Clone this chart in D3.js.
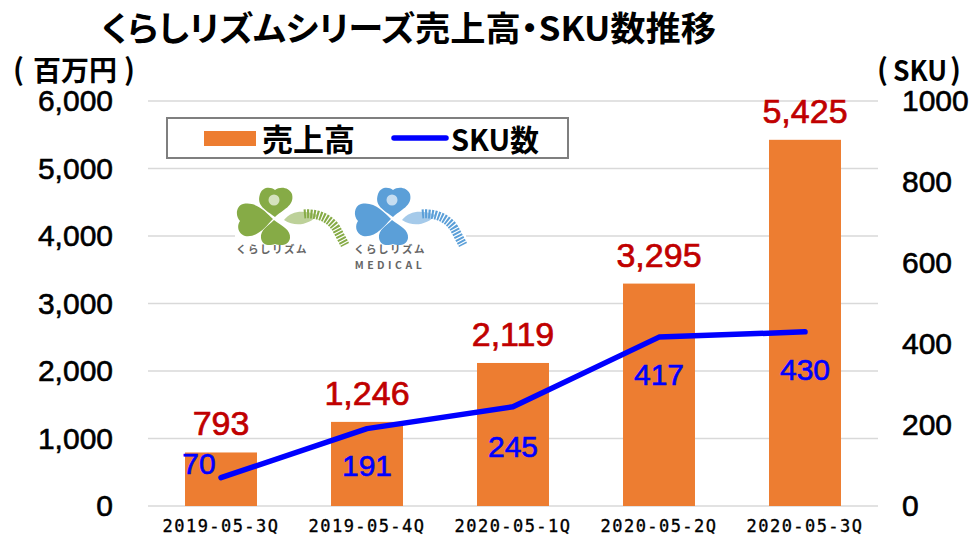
<!DOCTYPE html>
<html>
<head>
<meta charset="utf-8">
<script src="https://cdn.jsdelivr.net/npm/d3@7"></script>
<style>
html, body { margin:0; padding:0; background:#fff; }
svg { display:block; }
text { font-family:"Liberation Sans", Arial, sans-serif; }
.jp { font-family:"Noto Sans CJK JP", sans-serif; font-weight:700; }
</style>
</head>
<body>
<div id="chart"></div>
<script>
/*DATA*/
const quarters = ["2019-05-3Q","2019-05-4Q","2020-05-1Q","2020-05-2Q","2020-05-3Q"];
const sales = [793,1246,2119,3295,5425];
const sku = [70,191,245,417,430];
const salesTicks = [0,1000,2000,3000,4000,5000,6000];
const skuTicks = [0,200,400,600,800,1000];

const title = "くらしリズムシリーズ売上高・SKU数推移";
const legendLabels = ["売上高","SKU数"];

/*Initiate dimension*/
const width = 979, height = 536;
const margin = {top:101, right:101, bottom:30, left:148};

const orange = "#ed7d31", blue = "#0000ff", red = "#c00000", grid = "#d9d9d9";

const svg = d3.select("#chart").append("svg")
	.attr("width",width)
	.attr("height",height);

/*SCALES*/
const x = d3.scaleBand()
	.domain(quarters)
	.range([margin.left,width-margin.right])
	.paddingInner(0.507)
	.paddingOuter(0.2535);
const ySales = d3.scaleLinear().domain([0,6000]).range([height-margin.bottom,margin.top]);
const ySku = d3.scaleLinear().domain([0,1000]).range([height-margin.bottom,margin.top]);
const cx = d => x(d)+x.bandwidth()/2;

/*GRID*/
svg.append("g").selectAll("line")
	.data(salesTicks)
	.enter().append("line")
	.attr("x1",margin.left)
	.attr("x2",width-margin.right)
	.attr("y1",d => ySales(d))
	.attr("y2",d => ySales(d))
	.attr("stroke",grid)
	.attr("stroke-width",1.5);

/*AXES*/
const axisLeft = svg.append("g")
	.attr("transform",`translate(${margin.left-35},0)`)
	.call(d3.axisLeft(ySales).tickValues(salesTicks).tickSize(0).tickPadding(0).tickFormat(d3.format(",")));
const axisRight = svg.append("g")
	.attr("transform",`translate(${width-margin.right+24},0)`)
	.call(d3.axisRight(ySku).tickValues(skuTicks).tickSize(0).tickPadding(0).tickFormat(d3.format("d")));
const axisBottom = svg.append("g")
	.attr("transform",`translate(0,${height-margin.bottom+14})`)
	.call(d3.axisBottom(x).tickSize(0).tickPadding(0));
axisLeft.select(".domain").remove();
axisRight.select(".domain").remove();
axisBottom.select(".domain").remove();
axisLeft.selectAll("text").attr("font-size",30).attr("fill","#000").attr("stroke","#000").attr("stroke-width",0.6)
	.attr("style",'font-family:"Liberation Sans"');
axisRight.selectAll("text").attr("font-size",30).attr("fill","#000").attr("stroke","#000").attr("stroke-width",0.6)
	.attr("style",'font-family:"Liberation Sans"');
axisBottom.selectAll("text").attr("font-size",17).attr("fill","#000").attr("stroke","#000").attr("stroke-width",0.35)
	.attr("style",'font-family:"DejaVu Sans Mono"; letter-spacing:1.45px');

/*BARS*/
svg.append("g").selectAll("rect")
	.data(quarters)
	.enter().append("rect")
	.attr("x",d => x(d))
	.attr("width",x.bandwidth())
	.attr("y",(d,i) => ySales(sales[i]))
	.attr("height",(d,i) => ySales(0)-ySales(sales[i]))
	.attr("fill",orange);

/*LOGOS (dessin approximatif)*/
function logo(x0,y0,col,lines){
	const g = svg.append("g").attr("transform",`translate(${x0},${y0})`);
	//feuilles
	g.append("path").attr("d","M39,31 C30,24 20,20 24,8 C27,0 35,1 39,4 C44,0 53,1 56,8 C59,20 46,24 39,31 Z").attr("fill",col);
	g.append("path").attr("d","M37,33 C30,40 22,52 9,50 C1,47 1,39 4,35 C-1,30 0,20 7,18 C20,15 30,26 37,33 Z").attr("fill",col);
	g.append("path").attr("d","M38,34 C46,40 55,44 54,52 C53,60 44,60 39,58 C34,60 26,60 25,52 C24,44 32,40 38,34 Z").attr("fill",col);
	g.append("circle").attr("cx",38).attr("cy",14).attr("r",5.5).attr("fill","#fff").attr("opacity",0.65);
	//ruban
	g.append("path")
		.attr("d","M48,34 C56,24 68,24 82,29 C74,38 60,42 48,34 Z")
		.attr("fill",col).attr("opacity",0.55);
	g.append("path")
		.attr("d","M68,28 C78,27 92,30 100,42 L109,59")
		.attr("fill","none").attr("stroke",col).attr("stroke-width",9).attr("stroke-dasharray","2 1.2");
	lines.forEach((t,i) => {
		g.append("text").attr("class","jp").attr("x",36).attr("y",67+i*16)
			.attr("text-anchor","middle").attr("font-size",10.5)
			.attr("letter-spacing",i===0?1.5:3.5).attr("fill","#666").attr("font-weight",400).text(t);
	});
}
svg.append("rect").attr("x",235).attr("y",186).attr("width",231).attr("height",90).attr("fill","#fff");
logo(236,186,"#86ab46",["くらしリズム"]);
logo(354,186,"#5b9fd8",["くらしリズム","MEDICAL"]);

/*LINE*/
const line = d3.line()
	.x(d => cx(d))
	.y((d,i) => ySku(sku[i]));
svg.append("path")
	.attr("d",line(quarters))
	.attr("fill","none")
	.attr("stroke",blue)
	.attr("stroke-width",5.5)
	.attr("stroke-linecap","round")
	.attr("stroke-linejoin","round");

/*DATA LABELS*/
svg.append("g").selectAll("text")
	.data(quarters)
	.enter().append("text")
	.attr("x",cx)
	.attr("y",(d,i) => ySales(sales[i])-17)
	.attr("text-anchor","middle")
	.attr("font-size",34)
	.attr("fill",red)
	.attr("stroke",red)
	.attr("stroke-width",0.7)
	.text((d,i) => d3.format(",")(sales[i]));

const skuDx = [-22,0,0,0,0];
svg.append("g").selectAll("text")
	.data(quarters)
	.enter().append("text")
	.attr("x",(d,i) => cx(d)+skuDx[i])
	.attr("y",(d,i) => ySku(sku[i])+(i===0?-4:i===3?48:i===4?48:i===2?50:47))
	.attr("text-anchor","middle")
	.attr("font-size",30)
	.attr("fill",blue)
	.attr("stroke",blue)
	.attr("stroke-width",0.6)
	.text((d,i) => sku[i]);

/*TITLE, UNITS*/
svg.append("text").attr("class","jp")
	.attr("x",101).attr("y",41)
	.attr("font-size",34).attr("fill","#000")
	.attr("style",'font-feature-settings:"palt"')
	.attr("textLength",615).attr("lengthAdjust","spacingAndGlyphs")
	.text(title);
svg.append("text").attr("class","jp")
	.attr("x",33).attr("y",81)
	.attr("font-size",28).attr("fill","#000")
	.attr("textLength",84).attr("lengthAdjust","spacingAndGlyphs")
	.text("百万円");
svg.append("text").attr("class","jp").attr("x",13).attr("y",80).attr("font-size",29).attr("fill","#000").text("(");
svg.append("text").attr("class","jp").attr("x",124).attr("y",80).attr("font-size",29).attr("fill","#000").text(")");
svg.append("text").attr("class","jp").attr("x",877).attr("y",80).attr("font-size",29).attr("fill","#000").text("(");
svg.append("text").attr("class","jp")
	.attr("x",893).attr("y",81)
	.attr("font-size",28).attr("fill","#000")
	.attr("textLength",54).attr("lengthAdjust","spacingAndGlyphs")
	.text("SKU");
svg.append("text").attr("class","jp").attr("x",950).attr("y",80).attr("font-size",29).attr("fill","#000").text(")");

/*LEGEND*/
const legend = svg.append("g");
legend.append("rect")
	.attr("x",167).attr("y",118).attr("width",401).attr("height",40)
	.attr("fill","#fff").attr("stroke","#7f7f7f").attr("stroke-width",2);
legend.append("rect")
	.attr("x",204).attr("y",131).attr("width",52).attr("height",15)
	.attr("fill",orange);
legend.append("text").attr("class","jp")
	.attr("x",262).attr("y",151).attr("font-size",31).attr("fill","#000")
	.text(legendLabels[0]);
legend.append("line")
	.attr("x1",394).attr("x2",446).attr("y1",138).attr("y2",138)
	.attr("stroke",blue).attr("stroke-width",5.5).attr("stroke-linecap","round");
legend.append("text").attr("class","jp")
	.attr("x",451).attr("y",151).attr("font-size",30).attr("fill","#000")
	.attr("textLength",88).attr("lengthAdjust","spacingAndGlyphs")
	.text(legendLabels[1]);
</script>
</body>
</html>
